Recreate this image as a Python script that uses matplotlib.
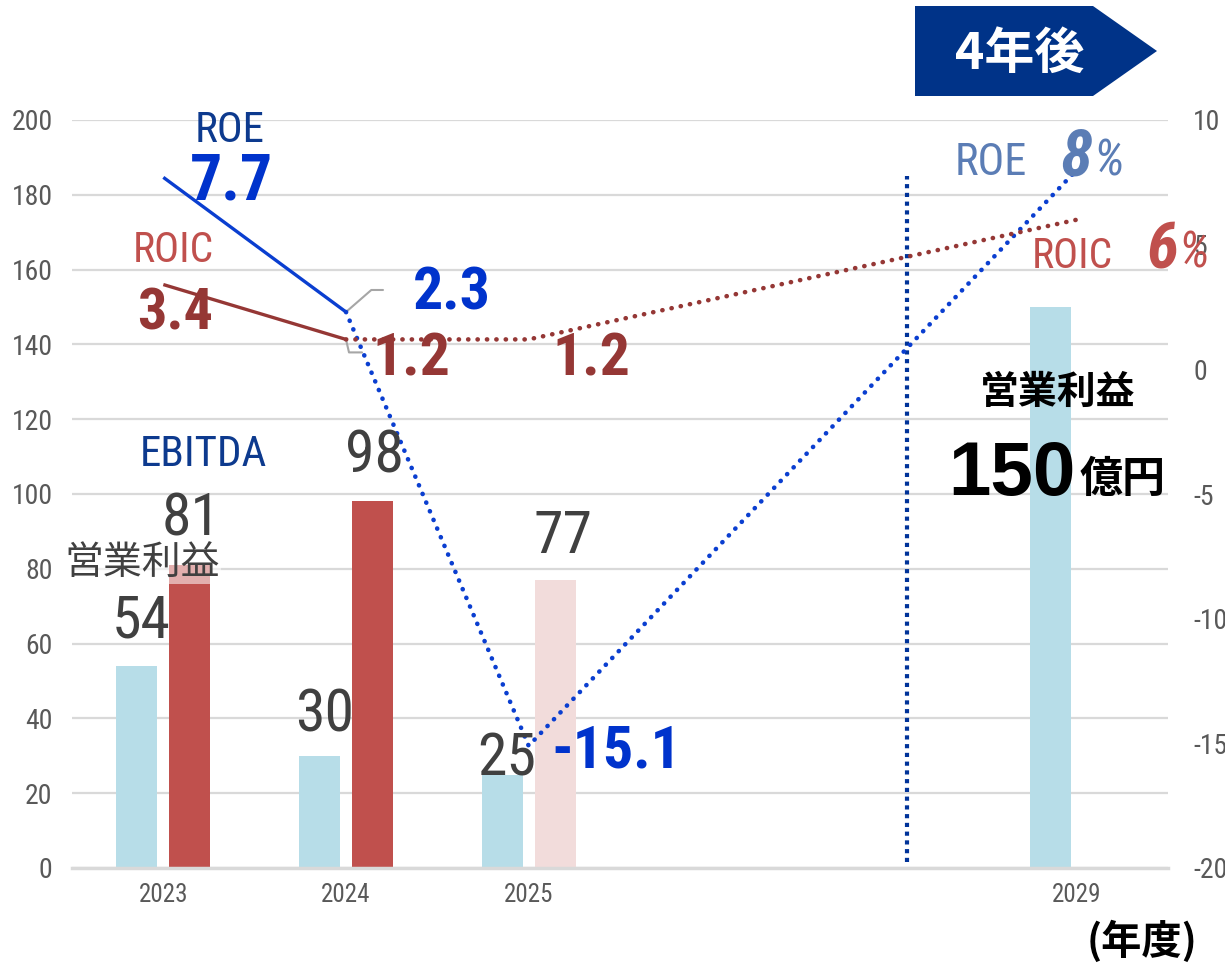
import matplotlib
matplotlib.use("Agg")
import matplotlib.pyplot as plt
from matplotlib.patches import Polygon
import numpy as np

plt.rcParams["axes.unicode_minus"] = False

# ---------------- data ----------------
years = ["2023", "2024", "2025", "2029"]
year_pos = [0, 1, 2, 5]
op_profit = [54, 30, 25, 150]          # 営業利益 (億円)
ebitda = [81, 98, 77]                  # EBITDA (2023-2025)
roe = [7.7, 2.3, -15.1, 8]             # ROE (%)
roic = [3.4, 1.2, 1.2, 6]              # ROIC (%)
left_ticks = [0, 20, 40, 60, 80, 100, 120, 140, 160, 180, 200]
right_ticks = [-20, -15, -10, -5, 0, 5, 10]

W, H = 1225, 965
NARROW = ["Roboto Condensed", "DejaVu Sans"]
CJK = ["Noto Sans CJK JP", "DejaVu Sans"]
SANS = ["Liberation Sans", "DejaVu Sans"]

fig = plt.figure(figsize=(W / 100, H / 100), dpi=100)
ax = fig.add_axes([72 / W, (H - 868) / H, 1096 / W, 748 / H])
ax2 = ax.twinx()

def P(x, y):
    return x / W, 1 - y / H

# ---------------- bars ----------------
bw = 0.225
off = 0.145
ax.bar(np.array(year_pos) - off, op_profit, width=bw, color="#B7DDE8", zorder=2)
ebitda_cols = ["#C0504D", "#C0504D", "#F2DCDB"]
ax.bar(np.array(year_pos[:3]) + off, ebitda, width=bw, color=ebitda_cols, zorder=2)

ax.set_xlim(-0.5, 5.5)
ax.set_ylim(0, 200)
ax.set_yticks(left_ticks)
ax.set_xticks(year_pos)
ax.set_xticklabels(years)
ax.grid(axis="y", color="#D9D9D9", lw=1.6, zorder=0)
ax.set_axisbelow(True)
for s in ["top", "right", "left"]:
    ax.spines[s].set_visible(False)
ax.spines["bottom"].set_color("#D9D9D9")
ax.spines["bottom"].set_linewidth(2.5)
ax.tick_params(axis="y", length=0, pad=14, labelsize=20, labelcolor="#595959")
ax.tick_params(axis="x", length=0, pad=11, labelsize=18, labelcolor="#595959")
for lab in ax.get_yticklabels() + ax.get_xticklabels():
    lab.set_family(NARROW)

ax2.set_ylim(-20, 10)
ax2.set_yticks(right_ticks)
for s in ["top", "right", "left", "bottom"]:
    ax2.spines[s].set_visible(False)
ax2.tick_params(axis="y", length=0, pad=18, labelsize=20, labelcolor="#595959")
for lab in ax2.get_yticklabels():
    lab.set_family(NARROW)

# separator line
ax.vlines(4.07, 1.6, 185, color="#003399", lw=3, linestyles=(0, (1, 1.1)), zorder=3)

# ---------------- lines ----------------
roe_c = "#0A3ED0"
roic_c = "#953735"
ax2.plot(year_pos[:2], roe[:2], color=roe_c, lw=2.4, zorder=4, solid_capstyle="butt")
ax2.plot(year_pos[1:], roe[1:], color=roe_c, lw=3.3, linestyle=(0, (0.05, 2.0)),
         dash_capstyle="round", zorder=4)
ax2.plot(year_pos[:2], roic[:2], color=roic_c, lw=2.4, zorder=4, solid_capstyle="butt")
ax2.plot(year_pos[1:], roic[1:], color=roic_c, lw=3.3, linestyle=(0, (0.05, 2.0)),
         dash_capstyle="round", zorder=4)

# leader lines for 2024 labels
ax2.annotate("", xy=(year_pos[1], roe[1]), xytext=(37, 22), textcoords="offset pixels",
             arrowprops=dict(arrowstyle="-", color="#A6A6A6", lw=1.5, shrinkA=0, shrinkB=0,
                             connectionstyle="angle,angleA=0,angleB=41,rad=0"))
ax2.annotate("", xy=(year_pos[1], roic[1]), xytext=(16, -13), textcoords="offset pixels",
             arrowprops=dict(arrowstyle="-", color="#A6A6A6", lw=1.5, shrinkA=0, shrinkB=0,
                             connectionstyle="angle,angleA=0,angleB=-77,rad=0"))

# ---------------- texts ----------------
def t(x, y, s, size, color, family=NARROW, weight="normal", style="normal",
      ha="left", va="baseline", **kw):
    fig.text(*P(x, y), s, fontsize=size, color=color, family=family, weight=weight,
             style=style, ha=ha, va=va, **kw)

navy = "#0D3A8E"
blue = "#0033CC"
dred = "#953735"
red = "#C0504D"
gray = "#404040"
slate = "#5B7DB5"

t(195, 142, "ROE", 31, navy)
t(190, 199, f"{roe[0]}", 46, blue, weight="bold")
t(133, 262, "ROIC", 30, red)
t(137, 330, f"{roic[0]}", 42, dred, weight="bold")
t(413, 310, f"{roe[1]}", 43, blue, weight="bold")
t(372, 375, f"{roic[1]}", 43, dred, weight="bold")
t(552, 375, f"{roic[2]}", 43, dred, weight="bold")
t(551, 768, f"{roe[2]}", 43, blue, weight="bold")

t(955, 175, "ROE", 32, slate)
t(1061, 175, f"{roe[3]:.0f}", 47, slate, weight="bold", style="italic")
t(1093, 175, "%", 36, slate, style="italic")
t(1032, 268, "ROIC", 30, red)
t(1147, 268, f"{roic[3]:.0f}", 47, red, weight="bold", style="italic")
t(1178, 268, "%", 36, red, style="italic")

t(140, 466, "EBITDA", 31, navy)
t(162, 535, f"{ebitda[0]}", 43, gray)
t(142, 563, "営業利益", 28, gray, family=CJK, ha="center", va="center",
  bbox=dict(boxstyle="square,pad=0.02", fc="white", ec="none", alpha=0.55))
t(112, 638, f"{op_profit[0]}", 43, gray)
t(345, 472, f"{ebitda[1]}", 43, gray)
t(295, 732, f"{op_profit[1]}", 43, gray)
t(533, 553, f"{ebitda[2]}", 43, gray)
t(477, 775, f"{op_profit[2]}", 43, gray)

t(1058, 392, "営業利益", 28, "black", family=CJK, weight="bold", ha="center", va="center")
t(948, 495, f"{op_profit[3]}", 55, "black", family=SANS, weight="bold")
t(1123, 479, "億円", 31, "black", family=CJK, weight="bold", ha="center", va="center")

# banner
banner = Polygon([P(915, 6), P(1093, 6), P(1157, 51), P(1093, 96), P(915, 96)],
                 closed=True, transform=fig.transFigure, facecolor="#003388",
                 edgecolor="none")
fig.patches.append(banner)
t(1020, 54, "4年後", 36, "white", family=CJK, weight="bold", ha="center", va="center")

t(1142, 942, "(年度)", 29, "black", family=CJK, weight="bold", ha="center", va="center")

fig.savefig("out.png", dpi=100)
